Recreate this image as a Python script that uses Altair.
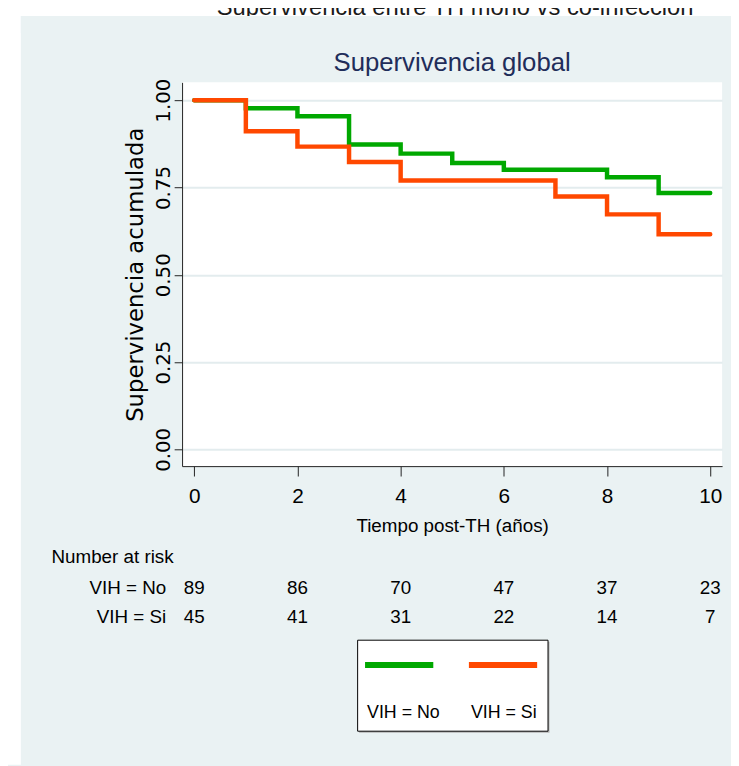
import altair as alt
import pandas as pd

# ---- data ----
times = [0, 1, 2, 3, 4, 5, 6, 7, 8, 9, 10]
surv_no = [1.000, 0.977, 0.954, 0.873, 0.847, 0.820, 0.801, 0.801, 0.779, 0.734, 0.734]
surv_si = [1.000, 0.911, 0.867, 0.823, 0.770, 0.770, 0.770, 0.724, 0.673, 0.616, 0.616]
series = ["VIH = No", "VIH = Si"]
colors = ["#00a800", "#ff4800"]
risk_times = [0, 2, 4, 6, 8, 10]
risk_no = [89, 86, 70, 47, 37, 23]
risk_si = [45, 41, 31, 22, 14, 7]
x_ticks = [0, 2, 4, 6, 8, 10]
y_ticks = [0.0, 0.25, 0.5, 0.75, 1.0]
title_text = "Supervivencia global"
slide_text = "Supervivencia entre TH mono vs co-infección"
x_title = "Tiempo post-TH (años)"
y_title = "Supervivencia acumulada"

W, H = 546, 388
PANEL = "#eaf2f3"
SANS = "Liberation Sans, Arial, sans-serif"
WIDE = "DejaVu Sans"

curves = pd.DataFrame({
    "t": times + times,
    "s": surv_no + surv_si,
    "g": [series[0]] * len(times) + [series[1]] * len(times),
})

xscale = alt.Scale(domain=[-0.236, 10.23], nice=False, zero=False)
yscale = alt.Scale(domain=[-0.048, 1.051], nice=False, zero=False)
cscale = alt.Scale(domain=series, range=colors)

one = pd.DataFrame({"k": [0]})


def box(x, x2, y, y2, color, **kw):
    return alt.Chart(one).mark_rect(color=color, **kw).encode(
        x=alt.value(x), x2=alt.value(x2), y=alt.value(y), y2=alt.value(y2))


def label(txt, x, y, align="left", font=SANS, size=19, color="black"):
    return alt.Chart(pd.DataFrame({"txt": [txt]})).mark_text(
        font=font, fontSize=size, align=align, baseline="alphabetic", color=color
    ).encode(x=alt.value(x), y=alt.value(y), text="txt:N")


top_strip = box(-176, 555, -79, -67, "white")
left_strip = box(-176, -163, -79, 690, "white")
slide = label(slide_text, 35, -68.5, size=24, color="#1a1a1a")
cover = box(-163, 555, -67, -50, PANEL)
main_title = label(title_text, W / 2, -12, align="center", size=26, color="#1f2d5a")

lines = alt.Chart(curves).mark_line(
    interpolate="step-after", strokeWidth=4.5, strokeCap="round", strokeJoin="miter"
).encode(
    x=alt.X("t:Q", scale=xscale, title=x_title, axis=alt.Axis(
        values=x_ticks, grid=False, tickSize=10, labelPadding=27,
        labelBaseline="alphabetic", labelFlush=False, labelFont=SANS,
        labelFontSize=21, labelColor="black", titleFont=SANS, titleFontSize=19,
        titleFontWeight="normal", titleColor="black", titleBaseline="alphabetic",
        titleY=66, domainColor="#222", tickColor="#222")),
    y=alt.Y("s:Q", scale=yscale, title=y_title, axis=alt.Axis(
        values=y_ticks, format=".2f", grid=True, gridColor="#e3ecee", gridWidth=2,
        tickSize=8, labelAngle=270, labelAlign="center", labelBaseline="alphabetic",
        labelPadding=5, labelFont=WIDE, labelFontSize=20, labelColor="black",
        titleFont=WIDE, titleFontSize=23, titleFontWeight="normal", titleColor="black",
        titleAngle=270, titleX=-40, titleY=194, titleBaseline="alphabetic",
        titleAlign="center", domainColor="#222", tickColor="#222")),
    color=alt.Color("g:N", scale=cscale, legend=None),
)

risk_layers = [label("Number at risk", -132, 486)]
for name, vals, ypix in [(series[0], risk_no, 517), (series[1], risk_si, 547)]:
    risk_layers.append(label(name, -16, ypix, align="right"))
    df = pd.DataFrame({"t": risk_times, "n": vals})
    risk_layers.append(
        alt.Chart(df).mark_text(font=SANS, fontSize=19, baseline="alphabetic",
                                align="center", color="black").encode(
            x=alt.X("t:Q", scale=xscale, title=x_title),
            y=alt.value(ypix), text="n:Q"))

legend_layers = [
    box(179, 371.5, 565.5, 657.5, "#b5b5b5"),
    box(177.5, 370, 564, 656, "white", stroke="black", strokeWidth=1),
]
for i, (name, col) in enumerate(zip(series, colors)):
    x0 = 185 + i * 105
    legend_layers.append(
        alt.Chart(one).mark_rule(color=col, strokeWidth=6, strokeCap="butt").encode(
            x=alt.value(x0), x2=alt.value(x0 + 69), y=alt.value(589)))
    legend_layers.append(label(name, x0 + 2, 643, size=18))

chart = alt.layer(
    top_strip, left_strip, slide, cover, main_title, lines, *risk_layers, *legend_layers
).properties(
    width=W, height=H,
    autosize=alt.AutoSizeParams(type="none"),
    padding={"left": 176, "top": 71, "right": 9, "bottom": 299},
    background=PANEL,
).configure_view(stroke=None, fill="white")

chart.save("out.html", embed_options={"renderer": "svg", "actions": False})
